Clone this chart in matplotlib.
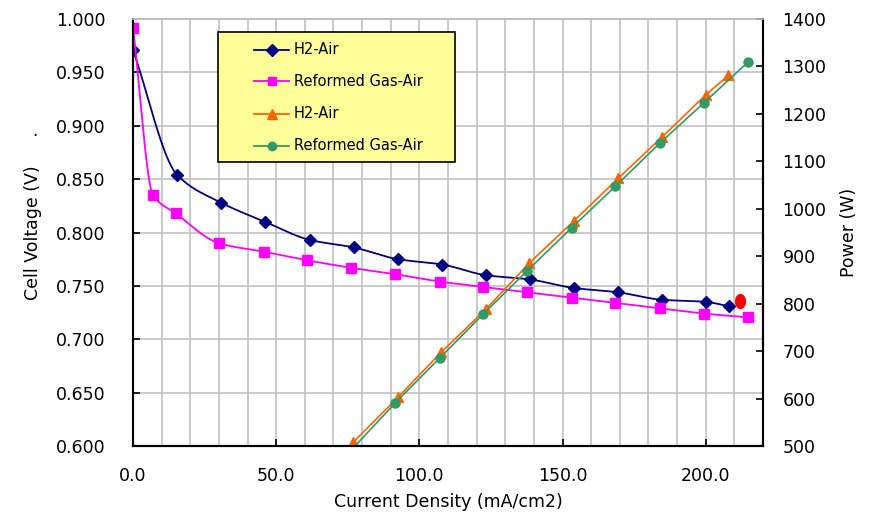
import numpy as np
import matplotlib
matplotlib.use("Agg")
import matplotlib.pyplot as plt
from matplotlib.lines import Line2D
from matplotlib.patches import Rectangle
from matplotlib.path import Path
from matplotlib.transforms import Affine2D

# Data
h2_cd = [0.0, 15.4, 30.7, 46.1, 61.8, 77.1, 92.5, 108.0, 123.2, 138.6, 154.0, 169.3, 184.6, 200.0, 208.0]
h2_volt = [0.971, 0.854, 0.828, 0.810, 0.793, 0.786, 0.775, 0.770, 0.760, 0.756, 0.748, 0.744, 0.737, 0.735, 0.731]

rf_cd = [0.0, 7.0, 14.9, 30.0, 45.6, 60.8, 76.0, 91.4, 107.2, 122.3, 137.6, 153.2, 168.4, 184.0, 199.5, 214.9]
rf_volt = [0.992, 0.835, 0.818, 0.790, 0.782, 0.774, 0.767, 0.761, 0.754, 0.749, 0.744, 0.739, 0.734, 0.729, 0.724, 0.7205]

h2_pow_cd = [61.8, 76.9, 92.6, 107.7, 123.2, 138.3, 153.9, 169.4, 184.9, 200.0, 207.9]
h2_pow = [405, 508, 603, 698, 788, 885, 974, 1064, 1152, 1240, 1281]

rf_pow_cd = [76.0, 91.6, 107.2, 122.3, 137.6, 153.2, 168.4, 183.9, 199.5, 214.9]
rf_pow = [490, 591, 686, 778, 869, 960, 1047, 1138, 1224, 1310]

red_pt = (211.9, 0.736)

legend_labels = ["H2-Air", "Reformed Gas-Air", "H2-Air", "Reformed Gas-Air"]

NAVY = "#000080"
MAGENTA = "#FF00FF"
ORANGE = "#FF6600"
GREEN = "#339966"

plt.rcParams['font.family'] = ['DejaVu Sans']


def smooth(x, y, n=25):
    # monotone cubic (Fritsch-Carlson) curve through the points, for drawing only
    x = np.asarray(x, float)
    y = np.asarray(y, float)
    h = np.diff(x)
    d = np.diff(y) / h
    m = np.zeros_like(y)
    m[0], m[-1] = d[0], d[-1]
    for i in range(1, len(x) - 1):
        if d[i - 1] * d[i] > 0:
            w1 = 2 * h[i] + h[i - 1]
            w2 = h[i] + 2 * h[i - 1]
            m[i] = (w1 + w2) / (w1 / d[i - 1] + w2 / d[i])
    xs, ys = [], []
    for i in range(len(x) - 1):
        t = np.linspace(0, 1, n, endpoint=False)
        h00 = 2 * t ** 3 - 3 * t ** 2 + 1
        h10 = t ** 3 - 2 * t ** 2 + t
        h01 = -2 * t ** 3 + 3 * t ** 2
        h11 = t ** 3 - t ** 2
        xs.append(x[i] + t * h[i])
        ys.append(h00 * y[i] + h10 * h[i] * m[i] + h01 * y[i + 1] + h11 * h[i] * m[i + 1])
    xs.append([x[-1]])
    ys.append([y[-1]])
    return np.concatenate(xs), np.concatenate(ys)


fig = plt.figure(figsize=(8.73, 5.14), dpi=100)
ax = fig.add_axes([133 / 873, 1 - 446 / 514, 630 / 873, 427 / 514])
ax2 = ax.twinx()

# voltage curves (smoothed)
xs, ys = smooth(h2_cd, h2_volt)
ax.plot(xs, ys, color=NAVY, lw=1.3)
ax.plot(h2_cd, h2_volt, ls="none", marker="D", ms=6.5, color=NAVY)
xs, ys = smooth(rf_cd, rf_volt)
ax.plot(xs, ys, color=MAGENTA, lw=1.3)
ax.plot(rf_cd, rf_volt, ls="none", marker="s", ms=7, color=MAGENTA)

ell = Path.unit_circle().transformed(Affine2D().scale(0.7, 1.0))
ax.plot([red_pt[0]], [red_pt[1]], ls="none", marker=ell, ms=10, color="#FF0000")

ax.set_xlim(0, 220)
ax.set_ylim(0.6, 1.0)
ax.set_xticks(np.arange(0, 201, 50))
ax.set_xticks(np.arange(0, 221, 10), minor=True)
ax.set_xticklabels(["%.1f" % v for v in np.arange(0, 201, 50)])
ax.set_yticks(np.arange(0.6, 1.0001, 0.05))
ax.set_yticklabels(["%.3f" % v for v in np.arange(0.6, 1.0001, 0.05)])
ax.grid(True, which="both", axis="x", color="#C0C0C0", lw=1.2)
ax.grid(True, which="major", axis="y", color="#C0C0C0", lw=1.2)
ax.set_axisbelow(True)
ax.tick_params(axis="x", which="minor", length=0)
ax.tick_params(axis="x", which="major", direction="in", length=5, width=1.2, pad=15, labelsize=12.5)
ax.tick_params(axis="y", direction="in", length=5, width=1.2, pad=20, labelsize=12.5)

# power lines
ax2.plot(h2_pow_cd, h2_pow, color=ORANGE, lw=1.2, marker="^", ms=7.5)
ax2.plot(rf_pow_cd, rf_pow, color=GREEN, lw=1.2, marker="o", ms=6.5)
ax2.set_ylim(500, 1400)
ax2.set_yticks(np.arange(500, 1401, 100))
ax2.tick_params(axis="y", direction="in", length=5, width=1.2, pad=14, labelsize=12.5)

for a in (ax, ax2):
    a.spines["top"].set_color("#C0C0C0")
    a.spines["top"].set_linewidth(1.2)
    for s in ("left", "bottom", "right"):
        a.spines[s].set_linewidth(1.5)

ax.set_xlabel("Current Density (mA/cm2)", fontsize=12.5, labelpad=6)
ax.set_ylabel("Cell Voltage (V)", fontsize=12.5, labelpad=10)
ax2.set_ylabel("Power (W)", fontsize=12.5, labelpad=10)
fig.text(35 / 873, 1 - 136 / 514, ".", fontsize=12, ha="center", va="baseline")

# legend box drawn by hand
lx0, ly0, lx1, ly1 = 218, 32, 455, 162
fig.patches.append(Rectangle((lx0 / 873, 1 - ly1 / 514), (lx1 - lx0) / 873, (ly1 - ly0) / 514,
                             transform=fig.transFigure, facecolor="#FFFF99", edgecolor="black",
                             lw=1.2, zorder=5))
styles = [(NAVY, "D", 6), (MAGENTA, "s", 6), (ORANGE, "^", 7), (GREEN, "o", 6)]
rows = [50, 81, 114, 146]
for (c, m, ms), yy, lab in zip(styles, rows, legend_labels):
    fy = 1 - yy / 514
    fig.lines.append(Line2D([254 / 873, 289 / 873], [fy, fy], transform=fig.transFigure,
                            color=c, lw=1.3, zorder=6))
    fig.lines.append(Line2D([271.5 / 873], [fy], transform=fig.transFigure, color=c,
                            marker=m, ms=ms, ls="none", zorder=6))
    fig.text(294 / 873, fy, lab, fontsize=10.5, va="center", ha="left", zorder=7)

fig.savefig("out.png", dpi=100)
